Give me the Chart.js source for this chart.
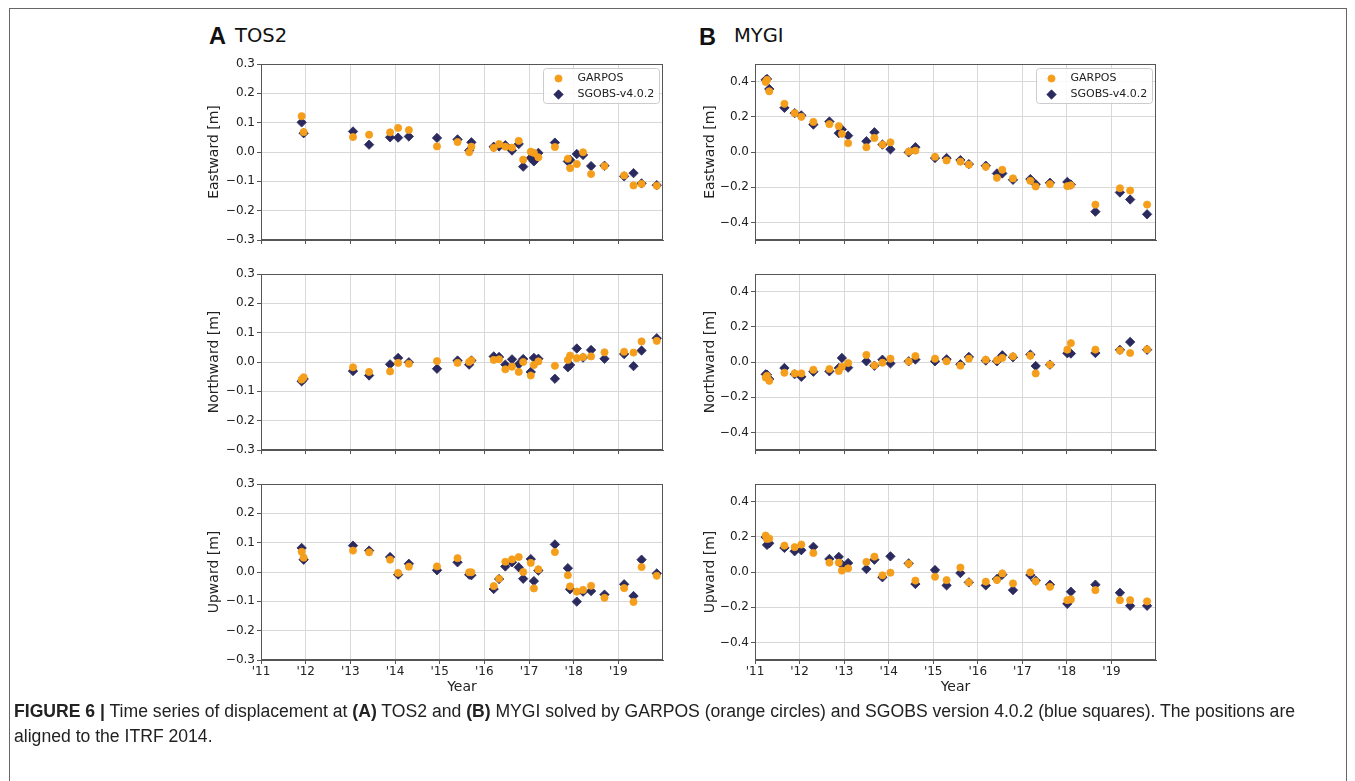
<!DOCTYPE html>
<html>
<head>
<meta charset="utf-8">
<script src="https://cdn.jsdelivr.net/npm/chart.js@4.4.0/dist/chart.umd.min.js"></script>
<style>
  body { margin: 0; width: 1355px; height: 781px; overflow: hidden; position: relative; background: #fff; }
  .frame { position: absolute; left: 9px; top: 8px; width: 1336px; height: 900px; border: 1px solid #666; }
  canvas { position: absolute; }
  .lbl { position: absolute; line-height: 1; white-space: nowrap; color: #111; }
  .letter { font: bold 23.5px "Liberation Sans", Arial, sans-serif; }
  .station { font: 19.5px "DejaVu Sans", sans-serif; }
  .caption { position: absolute; left: 14px; top: 699px; font: 17.6px/25px "Liberation Sans", Arial, sans-serif; color: #222; white-space: nowrap; }
</style>
</head>
<body>
<div class="frame"></div>

<div class="lbl letter" style="left:209px; top:23px;">A</div>
<div class="lbl station" style="left:235px; top:24px;">TOS2</div>
<div class="lbl letter" style="left:699px; top:24px;">B</div>
<div class="lbl station" style="left:734px; top:24px;">MYGI</div>

<canvas id="tosEast" width="470" height="198" style="left:201px; top:54px;"></canvas>
<canvas id="tosNorth" width="470" height="198" style="left:201px; top:264px;"></canvas>
<canvas id="tosUp" width="470" height="226" style="left:201px; top:474px;"></canvas>
<canvas id="mygiEast" width="469" height="198" style="left:695px; top:54px;"></canvas>
<canvas id="mygiNorth" width="469" height="198" style="left:695px; top:264px;"></canvas>
<canvas id="mygiUp" width="469" height="226" style="left:695px; top:474px;"></canvas>

<div class="caption"><b>FIGURE 6 |</b> Time series of displacement at <b>(A)</b> TOS2 and <b>(B)</b> MYGI solved by GARPOS (orange circles) and SGOBS version 4.0.2 (blue squares). The positions are<br>aligned to the ITRF 2014.</div>

<script>
// x axis: decimal years
const yearRange = [2011, 2020];
const yearTicks = [2011, 2012, 2013, 2014, 2015, 2016, 2017, 2018, 2019];
const yearLabels = ["'11", "'12", "'13", "'14", "'15", "'16", "'17", "'18", "'19"];

const tosRange = [-0.3, 0.3];
const tosTicks = [-0.3, -0.2, -0.1, 0, 0.1, 0.2, 0.3];
const mygiRange = [-0.5, 0.5];
const mygiTicks = [-0.4, -0.2, 0, 0.2, 0.4];

// TOS2 epochs and displacements [m]
const tosYears = [2011.91, 2011.955, 2013.06, 2013.42, 2013.89, 2014.07, 2014.31, 2014.94, 2015.40, 2015.66, 2015.71, 2016.21, 2016.33, 2016.47, 2016.62, 2016.77, 2016.87, 2017.04, 2017.11, 2017.21, 2017.58, 2017.87, 2017.92, 2018.07, 2018.21, 2018.39, 2018.69, 2019.13, 2019.34, 2019.52, 2019.86];
const tosEastGarpos = [0.122, 0.068, 0.051, 0.059, 0.067, 0.082, 0.075, 0.019, 0.034, -0.001, 0.018, 0.014, 0.027, 0.018, 0.015, 0.038, -0.026, 0.001, -0.003, -0.018, 0.017, -0.023, -0.055, -0.041, -0.001, -0.075, -0.048, -0.080, -0.114, -0.109, -0.115];
const tosEastSgobs = [0.101, 0.064, 0.070, 0.025, 0.050, 0.049, 0.053, 0.048, 0.043, 0.005, 0.033, 0.018, 0.019, 0.023, 0.005, 0.027, -0.050, -0.020, -0.032, -0.003, 0.032, -0.032, -0.027, -0.007, -0.010, -0.048, -0.047, -0.083, -0.072, -0.107, -0.113];
const tosNorthGarpos = [-0.060, -0.052, -0.018, -0.034, -0.032, -0.003, -0.006, 0.003, -0.003, 0.000, 0.006, 0.007, 0.009, -0.025, -0.016, -0.034, 0.000, -0.046, -0.010, 0.002, -0.013, 0.007, 0.022, 0.013, 0.017, 0.019, 0.033, 0.035, 0.032, 0.070, 0.072];
const tosNorthSgobs = [-0.066, -0.058, -0.031, -0.046, -0.008, 0.014, -0.001, -0.023, 0.005, -0.009, 0.005, 0.019, 0.017, -0.009, 0.009, -0.008, 0.010, -0.034, 0.014, 0.011, -0.057, -0.018, -0.010, 0.046, 0.015, 0.041, 0.011, 0.027, -0.014, 0.039, 0.081];
const tosUpGarpos = [0.069, 0.049, 0.073, 0.067, 0.042, -0.003, 0.018, 0.019, 0.047, -0.001, -0.001, -0.048, -0.023, 0.035, 0.043, 0.051, 0.000, 0.031, -0.056, 0.009, 0.068, -0.011, -0.049, -0.067, -0.061, -0.047, -0.088, -0.055, -0.102, 0.017, -0.013];
const tosUpSgobs = [0.082, 0.042, 0.090, 0.073, 0.051, -0.009, 0.028, 0.006, 0.033, -0.009, -0.011, -0.058, -0.024, 0.019, 0.033, 0.016, -0.023, 0.044, -0.031, 0.005, 0.094, 0.013, -0.059, -0.101, -0.067, -0.065, -0.077, -0.042, -0.082, 0.042, -0.005];

// MYGI epochs and displacements [m]
const mygiYears = [2011.24, 2011.27, 2011.32, 2011.66, 2011.89, 2012.04, 2012.31, 2012.67, 2012.88, 2012.95, 2013.09, 2013.50, 2013.68, 2013.86, 2014.04, 2014.45, 2014.60, 2015.04, 2015.30, 2015.61, 2015.80, 2016.18, 2016.43, 2016.55, 2016.79, 2017.18, 2017.30, 2017.62, 2018.01, 2018.09, 2018.64, 2019.19, 2019.42, 2019.80];
const mygiEastGarpos = [0.398, 0.410, 0.345, 0.274, 0.221, 0.200, 0.171, 0.158, 0.147, 0.103, 0.050, 0.027, 0.080, 0.042, 0.055, 0.002, 0.008, -0.027, -0.048, -0.055, -0.072, -0.084, -0.147, -0.101, -0.150, -0.164, -0.196, -0.183, -0.194, -0.189, -0.299, -0.206, -0.219, -0.299];
const mygiEastSgobs = [0.410, 0.415, 0.358, 0.251, 0.221, 0.208, 0.156, 0.173, 0.107, 0.128, 0.093, 0.061, 0.112, 0.042, 0.015, -0.002, 0.027, -0.034, -0.034, -0.046, -0.069, -0.078, -0.122, -0.122, -0.158, -0.154, -0.183, -0.175, -0.170, -0.185, -0.339, -0.230, -0.270, -0.354];
const mygiNorthGarpos = [-0.088, -0.078, -0.107, -0.061, -0.065, -0.065, -0.044, -0.040, -0.051, -0.027, -0.006, 0.040, -0.019, -0.004, 0.019, 0.003, 0.034, 0.019, 0.004, -0.021, 0.019, 0.013, 0.010, 0.023, 0.032, 0.036, -0.065, -0.015, 0.070, 0.107, 0.070, 0.065, 0.051, 0.072];
const mygiNorthSgobs = [-0.070, -0.072, -0.097, -0.034, -0.069, -0.084, -0.055, -0.053, -0.034, 0.023, -0.032, 0.004, -0.021, 0.013, -0.008, 0.004, 0.014, 0.004, 0.015, -0.013, 0.029, 0.008, 0.004, 0.038, 0.027, 0.042, -0.023, -0.015, 0.050, 0.048, 0.051, 0.069, 0.114, 0.070];
const mygiUpGarpos = [0.207, 0.188, 0.190, 0.150, 0.141, 0.156, 0.108, 0.053, 0.053, 0.008, 0.021, 0.057, 0.087, -0.019, -0.004, 0.047, -0.049, -0.027, -0.046, 0.025, -0.059, -0.055, -0.046, -0.008, -0.065, -0.002, -0.053, -0.084, -0.160, -0.156, -0.103, -0.160, -0.160, -0.167];
const mygiUpSgobs = [0.198, 0.154, 0.163, 0.137, 0.118, 0.124, 0.143, 0.074, 0.086, 0.042, 0.051, 0.017, 0.070, -0.030, 0.089, 0.049, -0.068, 0.011, -0.076, -0.006, -0.059, -0.076, -0.040, -0.015, -0.103, -0.017, -0.049, -0.072, -0.181, -0.112, -0.072, -0.118, -0.192, -0.192];

const ORANGE = "#f59e1c";
const NAVY = "#2b2a5e";
const GRID = "#d8d8d8";
const AXIS = "#555555";
const TEXT = "#222222";
const FONT = "'DejaVu Sans', sans-serif";

const fmtTick = v => Math.abs(v) < 1e-9 ? "0.0" : v.toFixed(1).replace("-", "\u2212");

// matplotlib style box: spines on all four sides
const frameStroke = {
    id: "frameStroke",
    afterDatasetsDraw(chart) {
        const { ctx, chartArea: a } = chart;
        ctx.save();
        ctx.strokeStyle = AXIS;
        ctx.lineWidth = 1;
        ctx.strokeRect(Math.round(a.left) + 0.5, Math.round(a.top) + 0.5,
            Math.round(a.right - a.left) - 1, Math.round(a.bottom - a.top) - 1);
        ctx.restore();
    }
};

const boxLegend = {
    id: "boxLegend",
    afterDraw(chart, args, opts) {
        if (!opts || !opts.show) return;
        const { ctx, chartArea: a } = chart;
        const w = 116, h = 35;
        const x = Math.round(a.right - 4 - w) + 0.5;
        const y = Math.round(a.top + 4) + 0.5;
        ctx.save();
        ctx.fillStyle = "rgba(255,255,255,0.85)";
        ctx.strokeStyle = "#cccccc";
        ctx.lineWidth = 1;
        ctx.beginPath();
        if (ctx.roundRect) ctx.roundRect(x, y, w, h, 3); else ctx.rect(x, y, w, h);
        ctx.fill();
        ctx.stroke();
        chart.data.datasets.forEach((ds, i) => {
            const cy = y + 10 + i * 16;
            ctx.fillStyle = ds.backgroundColor;
            ctx.strokeStyle = ds.borderColor;
            ctx.lineWidth = ds.borderWidth;
            Chart.helpers.drawPoint(ctx, { pointStyle: ds.pointStyle, radius: ds.pointRadius, borderWidth: ds.borderWidth, rotation: 0 }, x + 15, cy);
            ctx.fillStyle = TEXT;
            ctx.font = "11px " + FONT;
            ctx.textBaseline = "middle";
            ctx.textAlign = "left";
            ctx.fillText(ds.label, x + 34, cy);
        });
        ctx.restore();
    }
};

const points = (xs, ys) => xs.map((x, i) => ({ x, y: ys[i] }));

function panelChart(id, p) {
    const bottom = p.row === 2;
    new Chart(document.getElementById(id), {
        type: "scatter",
        data: {
            datasets: [
                {
                    label: "GARPOS",
                    data: points(p.years, p.garpos),
                    pointStyle: "circle",
                    pointRadius: 3.6,
                    backgroundColor: ORANGE,
                    borderColor: ORANGE,
                    borderWidth: 0.8
                },
                {
                    label: "SGOBS-v4.0.2",
                    data: points(p.years, p.sgobs),
                    pointStyle: "rectRot",
                    pointRadius: 4.7,
                    backgroundColor: NAVY,
                    borderColor: NAVY,
                    borderWidth: 0.8
                }
            ]
        },
        options: {
            responsive: false,
            animation: false,
            events: [],
            layout: { padding: { top: 10, right: 8, left: 0, bottom: 0 } },
            plugins: {
                legend: { display: false },
                tooltip: { enabled: false },
                boxLegend: { show: p.row === 0 }
            },
            scales: {
                x: {
                    type: "linear",
                    min: yearRange[0],
                    max: yearRange[1],
                    afterBuildTicks: s => { s.ticks = yearTicks.map(value => ({ value })); },
                    afterFit: s => { s.height = bottom ? 40 : 12; },
                    grid: { color: GRID, tickColor: AXIS, tickLength: 4 },
                    border: { color: AXIS },
                    ticks: {
                        display: bottom,
                        autoSkip: false,
                        maxRotation: 0,
                        padding: 1,
                        color: TEXT,
                        font: { family: FONT, size: 12 },
                        callback: (v, i) => yearLabels[i]
                    },
                    title: {
                        display: bottom,
                        text: "Year",
                        color: TEXT,
                        font: { family: FONT, size: 14 },
                        padding: { top: 0, bottom: 4 }
                    }
                },
                y: {
                    min: p.range[0],
                    max: p.range[1],
                    afterBuildTicks: s => { s.ticks = p.ticks.map(value => ({ value })); },
                    afterFit: s => { s.width = 60; },
                    grid: { color: GRID, tickColor: AXIS, tickLength: 4 },
                    border: { color: AXIS },
                    ticks: {
                        padding: 2,
                        color: TEXT,
                        font: { family: FONT, size: 12 },
                        callback: v => fmtTick(v)
                    },
                    title: {
                        display: true,
                        text: p.yTitle,
                        color: TEXT,
                        font: { family: FONT, size: 14 },
                        padding: { top: p.titlePad, bottom: 0 }
                    }
                }
            }
        },
        plugins: [frameStroke, boxLegend]
    });
}

panelChart("tosEast", { row: 0, years: tosYears, garpos: tosEastGarpos, sgobs: tosEastSgobs, range: tosRange, ticks: tosTicks, yTitle: "Eastward [m]", titlePad: 4.6 });
panelChart("tosNorth", { row: 1, years: tosYears, garpos: tosNorthGarpos, sgobs: tosNorthSgobs, range: tosRange, ticks: tosTicks, yTitle: "Northward [m]", titlePad: 4.6 });
panelChart("tosUp", { row: 2, years: tosYears, garpos: tosUpGarpos, sgobs: tosUpSgobs, range: tosRange, ticks: tosTicks, yTitle: "Upward [m]", titlePad: 4.6 });
panelChart("mygiEast", { row: 0, years: mygiYears, garpos: mygiEastGarpos, sgobs: mygiEastSgobs, range: mygiRange, ticks: mygiTicks, yTitle: "Eastward [m]", titlePad: 7.3 });
panelChart("mygiNorth", { row: 1, years: mygiYears, garpos: mygiNorthGarpos, sgobs: mygiNorthSgobs, range: mygiRange, ticks: mygiTicks, yTitle: "Northward [m]", titlePad: 7.3 });
panelChart("mygiUp", { row: 2, years: mygiYears, garpos: mygiUpGarpos, sgobs: mygiUpSgobs, range: mygiRange, ticks: mygiTicks, yTitle: "Upward [m]", titlePad: 7.3 });
</script>
</body>
</html>
